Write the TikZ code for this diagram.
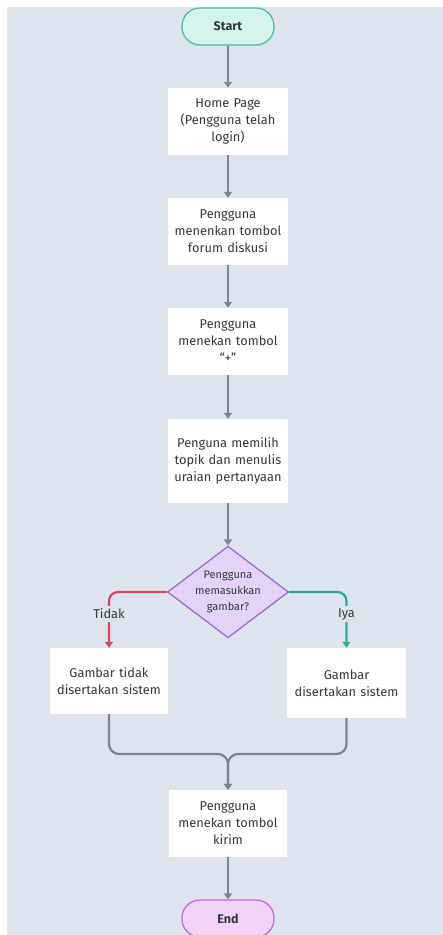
\documentclass[tikz,border=0pt]{standalone}
\usepackage{fontspec}
\setmainfont{Fira Sans}
\usetikzlibrary{shapes.geometric,arrows.meta}
\definecolor{bgc}{HTML}{DEE4ED}
\definecolor{txt}{HTML}{33383F}
\definecolor{flowc}{HTML}{7B8591}
\definecolor{startfill}{HTML}{D3F3EC}
\definecolor{startline}{HTML}{4DBFA8}
\definecolor{endfill}{HTML}{F1D3F6}
\definecolor{endline}{HTML}{C46FD3}
\definecolor{decfill}{HTML}{E4D3F6}
\definecolor{decline}{HTML}{9B6CD2}
\definecolor{noc}{HTML}{D6485B}
\definecolor{yesc}{HTML}{2CAE8E}
\tikzset{
  stepbox/.style={fill=white, minimum width=120pt, minimum height=67pt, inner sep=2pt,
    text width=114pt, align=center, font=\fontsize{12.8}{17}\selectfont, text=txt},
  terminal/.style={draw, line width=1.3pt, rounded corners=18pt, minimum width=92pt,
    minimum height=37pt, font=\fontsize{12.5}{15}\selectfont\bfseries, text=txt},
  decision/.style={diamond, draw=decline, fill=decfill, line width=1.3pt, aspect=1.32,
    minimum width=119pt, minimum height=90pt, inner sep=0pt, align=center,
    font=\fontsize{11}{16}\selectfont, text=txt},
  flow/.style={draw=flowc, line width=2.2pt, -{Triangle[width=8pt,length=6pt]}},
  branch/.style={line width=2.2pt, rounded corners=9pt, -{Triangle[width=8pt,length=6pt]}},
  blabel/.style={fill=bgc, inner sep=2.5pt, font=\fontsize{12.8}{14}\selectfont, text=txt}
}
\begin{document}
\begin{tikzpicture}[x=1pt,y=-1pt]
  \useasboundingbox (0,0) rectangle (443,935);
  \fill[bgc] (7,7) rectangle (443,935);

  % main column
  \node[terminal, draw=startline, fill=startfill] (start) at (228,26.5) {Start};
  \node[stepbox] (home) at (228,121.5) {Home Page\\(Pengguna telah\\login)};
  \node[stepbox] (forum) at (228,231.5) {Pengguna\\menenkan tombol\\forum diskusi};
  \node[stepbox] (plus) at (228,341.5) {Pengguna\\menekan tombol\\``+''};
  \node[stepbox, minimum height=84pt] (topik) at (228,461) {Penguna memilih\\topik dan menulis\\uraian pertanyaan};
  \node[decision] (cek) at (228,592) {Pengguna\\memasukkan\\gambar?};

  % the two outcomes
  \node[stepbox, minimum width=118pt, minimum height=66pt] (tidak) at (109,681) {Gambar tidak\\disertakan sistem};
  \node[stepbox, minimum width=119pt, minimum height=70pt] (iya) at (346.5,683) {Gambar\\disertakan sistem};

  \node[stepbox, minimum width=118pt] (kirim) at (228,823.5) {Pengguna\\menekan tombol\\kirim};
  \node[terminal, draw=endline, fill=endfill] (end) at (228,918.5) {End};

  % straight connectors
  \draw[flow] (start) -- (home);
  \draw[flow] (home) -- (forum);
  \draw[flow] (forum) -- (plus);
  \draw[flow] (plus) -- (topik);
  \draw[flow] (topik) -- (cek);
  \draw[flow] (kirim) -- (end);

  % decision branches
  \draw[branch, draw=noc] (cek.west) -- (tidak.north |- cek.west) -- (tidak.north);
  \draw[branch, draw=yesc] (cek.east) -- (iya.north |- cek.east) -- (iya.north);
  \node[blabel] (lblno) at (109,614) {Tidak};
  \node[blabel] (lblyes) at (346.5,614) {Iya};

  % join back into one path
  \coordinate (join) at (228,754);
  \draw[flow, rounded corners=10pt] (tidak.south) -- (tidak.south |- join) -- (join) -- (kirim.north);
  \draw[flow, rounded corners=10pt] (iya.south) -- (iya.south |- join) -- (join) -- (kirim.north);
\end{tikzpicture}
\end{document}
